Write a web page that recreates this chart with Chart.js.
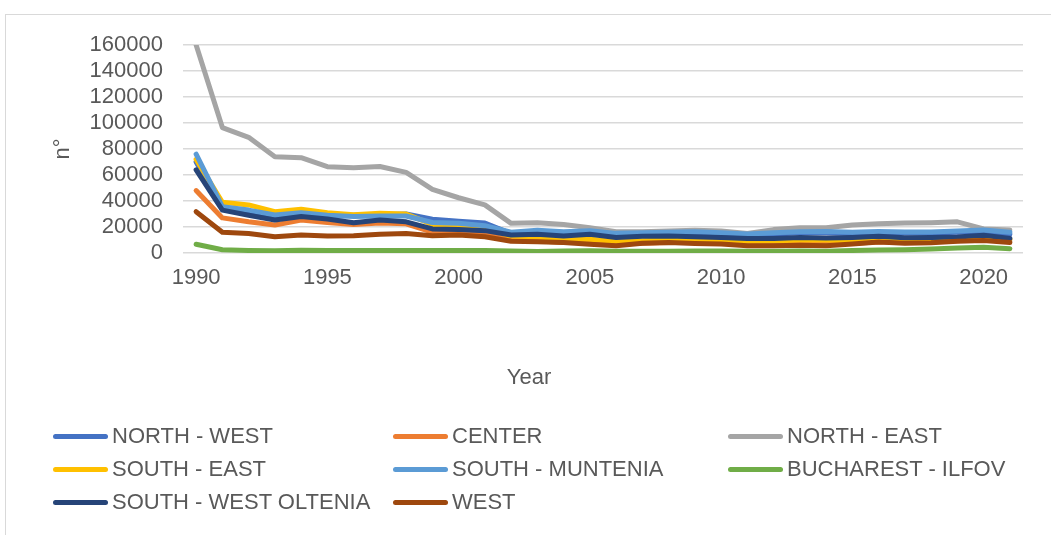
<!DOCTYPE html>
<html>
<head>
<meta charset="utf-8">
<script src="https://cdn.jsdelivr.net/npm/chart.js@4/dist/chart.umd.min.js"></script>
<style>
  html, body { margin: 0; padding: 0; background: #fff; }
  #wrap { position: relative; width: 1051px; height: 535px; overflow: hidden; }
  #frame { position: absolute; left: 5px; top: 14px; width: 1100px; height: 600px; border: 1.5px solid #d9d9d9; box-sizing: border-box; }
  #clickChart { position: absolute; left: 0; top: 0; }
  .leg { position: absolute; height: 30px; display: flex; align-items: center; font-family: "Liberation Sans", Arial, sans-serif; font-size: 22px; color: #595959; white-space: pre; }
  .leg span.ln { display: inline-block; width: 55px; height: 5px; border-radius: 3px; margin-right: 4px; }
  #xtitle { position: absolute; left: 429px; width: 200px; top: 364px; text-align: center; font-family: "Liberation Sans", Arial, sans-serif; font-size: 22px; color: #595959; }
</style>
</head>
<body>
<div id="wrap">
  <div id="frame"></div>
  <canvas id="clickChart" width="1051" height="535"></canvas>
  <div id="xtitle">Year</div>
  <div id="legend"></div>
</div>
<script>
// chart data
var years = [1990, 1991, 1992, 1993, 1994, 1995, 1996, 1997, 1998, 1999, 2000, 2001, 2002, 2003, 2004, 2005,
             2006, 2007, 2008, 2009, 2010, 2011, 2012, 2013, 2014, 2015, 2016, 2017, 2018, 2019, 2020, 2021];

var northWest = [70000, 34000, 31000, 27000, 29000, 28000, 29000, 29500, 30000, 26000, 24500, 23000, 15000, 16500, 15000, 16000,
                 14000, 14500, 15000, 15500, 14800, 14000, 14500, 15500, 15500, 15000, 15500, 15300, 15300, 16000, 16500, 14500];
var center = [48000, 27000, 24000, 21500, 25400, 23500, 22000, 23000, 22500, 16000, 15500, 14500, 10000, 9500, 8000, 8000,
              7000, 7500, 8000, 8500, 8000, 7000, 7500, 7500, 7500, 7500, 8500, 8500, 9000, 9500, 11000, 10000];
var northEast = [160000, 96500, 89000, 74000, 73300, 66400, 65600, 66500, 62000, 49000, 42500, 37000, 22800, 23300, 22000, 19500,
                 16400, 16400, 17000, 17500, 17000, 15000, 18000, 19500, 19500, 21500, 22500, 23000, 23300, 24000, 18500, 17700];
var southEast = [72000, 39000, 37000, 31800, 33600, 31000, 29500, 30500, 30000, 22000, 21000, 19000, 13000, 12500, 10500, 10500,
                 9000, 9500, 10000, 10500, 10000, 9000, 9500, 10000, 10000, 9500, 10000, 10000, 10500, 11000, 12000, 10500];
var southMuntenia = [76000, 35600, 33000, 29200, 31000, 29000, 28000, 28500, 28500, 23500, 22800, 21000, 16000, 17500, 16400, 17200,
                     15100, 15600, 16000, 16400, 15600, 14600, 15500, 16400, 16500, 15900, 16500, 16200, 16200, 16900, 17700, 15900];
var bucharestIlfov = [6700, 2500, 2000, 1800, 2200, 2000, 2000, 2000, 2000, 2000, 2000, 2000, 1500, 1200, 1500, 1800,
                      1300, 1300, 1300, 1500, 1500, 1300, 1300, 1500, 1300, 2000, 2300, 2500, 3000, 3800, 4500, 3300];
var southWestOltenia = [64000, 33000, 29000, 25400, 28000, 26200, 23300, 25400, 24000, 18500, 18000, 17200, 13800, 14500, 13000, 14500,
                        12000, 12800, 13000, 12500, 12000, 11200, 11200, 12000, 11500, 12000, 12800, 11800, 12000, 12300, 13600, 11200];
var west = [31800, 16000, 15000, 12500, 13800, 13000, 13300, 14500, 15000, 13300, 13800, 12500, 9000, 8700, 8000, 6700,
            5600, 7500, 8000, 7400, 7000, 5500, 5500, 6000, 5500, 7000, 8500, 7500, 7800, 9000, 9700, 8000];

var seriesNames = ['NORTH - WEST', 'CENTER', 'NORTH - EAST', 'SOUTH - EAST', 'SOUTH - MUNTENIA',
                   'BUCHAREST - ILFOV', 'SOUTH - WEST OLTENIA', 'WEST'];
var seriesValues = [northWest, center, northEast, southEast, southMuntenia, bucharestIlfov, southWestOltenia, west];
var seriesColors = ['#4472C4', '#ED7D31', '#A5A5A5', '#FFC000', '#5B9BD5', '#70AD47', '#264478', '#9E480E'];

document.addEventListener('DOMContentLoaded', function () {
    var canvas = document.getElementById('clickChart');
    var ctx = canvas.getContext('2d');
    var tickFont = { family: '"Liberation Sans", Arial, sans-serif', size: 22 };

    var datasets = seriesNames.map(function (name, i) {
        return {
            label: name,
            data: seriesValues[i],
            borderColor: seriesColors[i],
            backgroundColor: seriesColors[i],
            borderWidth: 5,
            pointRadius: 0,
            borderCapStyle: 'round',
            borderJoinStyle: 'round',
            tension: 0,
            order: seriesNames.length - i // later series drawn on top, like Excel
        };
    });

    new Chart(ctx, {
        type: 'line',
        data: { labels: years, datasets: datasets },
        options: {
            responsive: false,
            animation: false,
            layout: { padding: { left: 50, top: 45, right: 28, bottom: 143 } },
            plugins: { legend: { display: false }, tooltip: { enabled: false } },
            scales: {
                x: {
                    type: 'category',
                    offset: true,
                    grid: { display: false, drawTicks: false },
                    border: { display: false },
                    ticks: {
                        autoSkip: false,
                        maxRotation: 0,
                        color: '#595959',
                        font: tickFont,
                        padding: 12,
                        callback: function (val, idx) { return idx % 5 === 0 ? years[idx] : ''; }
                    },
                    afterFit: function (scale) { scale.height = 139; }
                },
                y: {
                    min: 0,
                    max: 160000,
                    grid: { color: '#d9d9d9', lineWidth: 1.5, drawTicks: false },
                    border: { display: false },
                    ticks: {
                        stepSize: 20000,
                        autoSkip: false,
                        maxTicksLimit: 20,
                        color: '#595959',
                        font: tickFont,
                        padding: 20,
                        callback: function (val) { return String(val); }
                    },
                    title: { display: true, text: 'n°', color: '#595959', font: tickFont, padding: 0 },
                    afterFit: function (scale) { scale.width = 133; }
                }
            }
        }
    });

    // legend in three columns like the reference
    var legend = document.getElementById('legend');
    var colX = [53, 393, 728];
    var rowY = [421, 454, 487];
    seriesNames.forEach(function (name, i) {
        var item = document.createElement('div');
        item.className = 'leg';
        item.style.left = colX[i % 3] + 'px';
        item.style.top = rowY[Math.floor(i / 3)] + 'px';
        item.innerHTML = '<span class="ln" style="background:' + seriesColors[i] + '"></span>' + name;
        legend.appendChild(item);
    });
});
</script>
</body>
</html>
